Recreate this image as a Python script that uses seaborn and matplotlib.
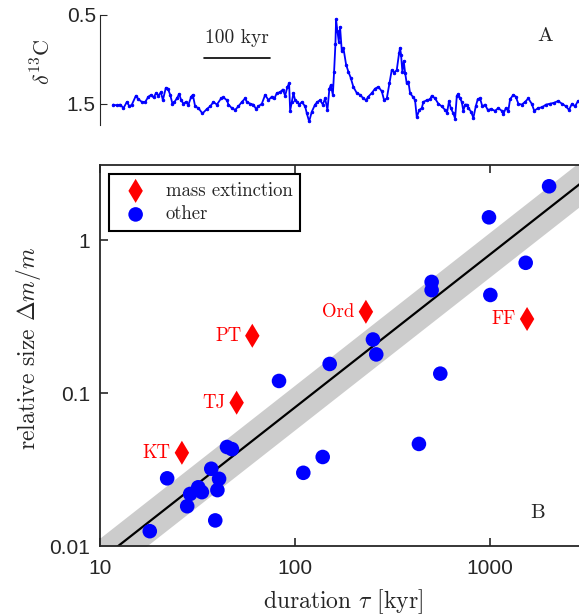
import numpy as np
import matplotlib
matplotlib.use("Agg")
import matplotlib.pyplot as plt
from matplotlib.ticker import NullLocator
import seaborn as sns

# panel A: d13C record, time in kyr
t_kyr = [0, 5.6, 10.6, 15.6, 20.7, 24.7, 28.3, 34.4, 38.3, 43.5, 48.5, 53.5, 57.6, 61.1, 65.1,
         68.6, 72.3, 75.3, 79.8, 82.9, 86.4, 89.8, 92.9, 96.5, 100, 103, 106.5, 110.1, 114.1, 118.2,
         120.7, 124.2, 129.2, 135.3, 142, 147, 152, 157.1, 163.6, 167.1, 172.3, 174.7, 179.8, 184.8,
         189.8, 195, 200,
         202.6, 207.6, 212.5, 216.6, 220.1, 225.3, 230.3, 235.3, 240.4, 244.4, 248, 253, 257.1, 260.6,
         264.1, 266.6, 268.2, 270.7, 273.2, 275.7, 279.2, 282.2, 285.9, 290.9, 293.5, 297, 301, 306,
         309.5, 313.6, 317.7, 321.2, 324.7, 327.7, 329.8, 332.9, 334.8, 336.8, 337.8, 339.8, 341.9,
         343.9, 346.5, 348.9, 353, 356.5, 360.1, 364, 369.2, 374.2, 379.2, 383.3, 386.8, 391.9, 396.9,
         401.9, 407.1, 410.6, 414.7, 418.6,
         422.2, 426.2, 429.8, 433.3, 434.8, 436.3, 438.3, 440.4, 442.4, 444.9, 447.4, 449.9, 455,
         457.5, 460.1, 464, 467.7, 470.1, 475.3, 480.3, 482.8, 487.8, 492.8, 498, 503, 506, 509,
         511.6, 515.6, 518.2, 520.8, 523.1, 525.7, 528.3, 530.7, 533.3, 535.8, 538.3, 542.4, 545.9,
         549.5, 552.5, 556, 559.5, 563.6, 567.7, 572.7, 578.7, 583.7, 588.9, 591.3, 595, 598.9, 601.5,
         606.5, 610.1, 614.1, 619.2, 624.2, 629.2, 634.3, 638.2,
         643.9, 650, 656, 662, 668.1, 674.2, 680.2, 686.3, 690.8, 695.4, 699.9, 704.5]
d13c = [1.51, 1.52, 1.51, 1.55, 1.48, 1.53, 1.51, 1.41, 1.45, 1.48, 1.48, 1.42, 1.40, 1.43, 1.38,
        1.41, 1.37, 1.46, 1.32, 1.33, 1.40, 1.50, 1.48, 1.44, 1.39, 1.46, 1.50, 1.48, 1.51, 1.42,
        1.40, 1.53, 1.55, 1.61, 1.56, 1.53, 1.48, 1.51, 1.44, 1.43, 1.46, 1.51, 1.55, 1.57,
        1.53, 1.48, 1.44,
        1.48, 1.50, 1.51, 1.56, 1.53, 1.50, 1.40, 1.46, 1.42, 1.44, 1.38, 1.37, 1.34, 1.41,
        1.31, 1.27, 1.58, 1.48, 1.38, 1.46, 1.48, 1.51, 1.48, 1.53, 1.61, 1.70, 1.59, 1.51,
        1.48, 1.46, 1.51, 1.44, 1.57, 1.33, 1.29, 1.40, 1.14, 0.83, 0.55, 0.68, 0.80,
        0.64, 0.91, 0.87, 1.06, 1.14, 1.21, 1.31, 1.38, 1.40, 1.44, 1.46, 1.42, 1.38, 1.33,
        1.31, 1.36, 1.46, 1.44, 1.27,
        1.12, 1.15, 1.12, 0.93, 0.87, 0.95, 1.14, 1.02, 1.15, 1.27, 1.25, 1.38, 1.43,
        1.46, 1.65, 1.57, 1.55, 1.48, 1.46, 1.45, 1.41, 1.44, 1.50, 1.53, 1.57, 1.60, 1.47,
        1.55, 1.61, 1.67, 1.41, 1.39, 1.44, 1.48, 1.58, 1.51, 1.51, 1.55, 1.59, 1.66,
        1.53, 1.45, 1.44, 1.53, 1.51, 1.57, 1.56, 1.58, 1.55, 1.58, 1.62, 1.55, 1.58, 1.45,
        1.40, 1.42, 1.50, 1.51, 1.48, 1.44, 1.50, 1.58,
        1.55, 1.54, 1.51, 1.50, 1.49, 1.47, 1.50, 1.53, 1.57, 1.50, 1.53, 1.47]

# panel B: event duration vs relative size
other_tau = [2009, 988, 1524, 502, 502, 1004, 251, 261, 150.6, 556, 82.8,
             44.8, 47.5, 37.2, 22.1, 40.8, 31.9, 29.0, 33.3, 40.0, 28.0, 39.0, 18.0,
             110.3, 138.7, 432]
other_size = [2.25, 1.41, 0.711, 0.533, 0.471, 0.438, 0.224, 0.179, 0.155, 0.134, 0.120,
              0.0444, 0.043, 0.032, 0.0277, 0.0275, 0.0242, 0.0219, 0.0225, 0.0232, 0.0182,
              0.0147, 0.0125, 0.0301, 0.0382, 0.0465]
ext_names = ["Ord", "FF", "PT", "TJ", "KT"]
ext_tau = [231, 1549, 60.4, 50.2, 26.3]
ext_size = [0.34, 0.305, 0.237, 0.0865, 0.0407]

fit_scale = 1240.0   # size = tau / fit_scale
band_factor = 1.4

sns.set_style("ticks")
plt.rcParams["font.family"] = ["cmr10", "DejaVu Serif"]
plt.rcParams["mathtext.fontset"] = "cm"
plt.rcParams["axes.unicode_minus"] = False
plt.rcParams["axes.formatter.use_mathtext"] = True

fig = plt.figure(figsize=(5.79, 6.16), dpi=100)
ax_a = fig.add_axes([100 / 579, 1 - 125 / 616, 479 / 579, 110 / 616])
ax_b = fig.add_axes([100 / 579, 1 - 546 / 616, 479 / 579, 381 / 616])

spine_col = "#262626"
tick_font = {"family": "Liberation Sans"}

# ---- panel A
sns.lineplot(x=t_kyr, y=d13c, ax=ax_a, color="blue", lw=1.3, marker=".", ms=3.5,
             mec="blue", sort=False, estimator=None)
ax_a.set_xlim(-20, 706)
ax_a.set_ylim(1.74, 0.5)
ax_a.set_yticks([0.5, 1.5])
ax_a.set_yticklabels(["0.5", "1.5"], fontdict=tick_font, fontsize=15)
ax_a.set_xticks([])
for s in ["top", "right", "bottom"]:
    ax_a.spines[s].set_visible(False)
ax_a.spines["left"].set_color(spine_col)
ax_a.tick_params(axis="y", direction="in", length=5, pad=3, color=spine_col)
ax_a.set_ylabel(r"$\delta^{13}$C", fontsize=16)
ax_a.yaxis.set_label_coords(-0.095, 0.57)
bar_start, bar_len = 138, 100
ax_a.plot([bar_start, bar_start + bar_len], [0.985, 0.985], color="black", lw=1.2)
ax_a.text(bar_start + bar_len / 2, 0.86, "100 kyr", ha="center", va="bottom", fontsize=14)
ax_a.text(0.93, 0.81, "A", transform=ax_a.transAxes, ha="center", va="center", fontsize=15)

# ---- panel B
fit_tau = np.geomspace(10, 3000, 50)
fit = fit_tau / fit_scale
ax_b.fill_between(fit_tau, fit / band_factor, fit * band_factor, color="#cccccc", lw=0, zorder=1)
sns.lineplot(x=fit_tau, y=fit, ax=ax_b, color="black", lw=1.6, zorder=2)
sns.scatterplot(x=ext_tau, y=ext_size, ax=ax_b, color="red", marker="d", s=150,
                edgecolor="none", label="mass extinction", zorder=3)
sns.scatterplot(x=other_tau, y=other_size, ax=ax_b, color="blue", marker="o", s=110,
                edgecolor="none", label="other", zorder=3)
for name, tx, ty in zip(ext_names, ext_tau, ext_size):
    ax_b.annotate(name, (tx, ty), xytext=(-8, 0), textcoords="offset points",
                  ha="right", va="center", color="red", fontsize=13.5)

ax_b.set_xscale("log")
ax_b.set_yscale("log")
ax_b.set_xlim(10, 2860)
ax_b.set_ylim(0.01, 3.1)
ax_b.set_xticks([10, 100, 1000])
ax_b.set_xticklabels(["10", "100", "1000"], fontdict=tick_font, fontsize=15)
ax_b.set_yticks([0.01, 0.1, 1])
ax_b.set_yticklabels(["0.01", "0.1", "1"], fontdict=tick_font, fontsize=15)
ax_b.xaxis.set_minor_locator(NullLocator())
ax_b.yaxis.set_minor_locator(NullLocator())
ax_b.tick_params(direction="in", length=6, color=spine_col, top=True, width=1.2)
ax_b.tick_params(axis="x", pad=9)
ax_b.tick_params(axis="y", pad=7)
ax_b.spines["right"].set_visible(False)
for s in ["top", "left", "bottom"]:
    ax_b.spines[s].set_color(spine_col)
    ax_b.spines[s].set_linewidth(1.3)
ax_b.set_xlabel(r"duration $\tau$ [kyr]", fontsize=17)
ax_b.xaxis.set_label_coords(0.507, -0.108)
ax_b.set_ylabel(r"relative size $\Delta m/m$", fontsize=17)
ax_b.yaxis.set_label_coords(-0.118, 0.52)
ax_b.text(0.914, 0.086, "B", transform=ax_b.transAxes, ha="center", va="center", fontsize=15)

leg = ax_b.legend(loc="upper left", fontsize=13.5, fancybox=False, framealpha=1,
                  edgecolor="black", borderaxespad=0.5, handletextpad=0.6,
                  labelspacing=0.3, borderpad=0.4)
leg.get_frame().set_linewidth(1.5)

fig.savefig("out.png", dpi=100)
